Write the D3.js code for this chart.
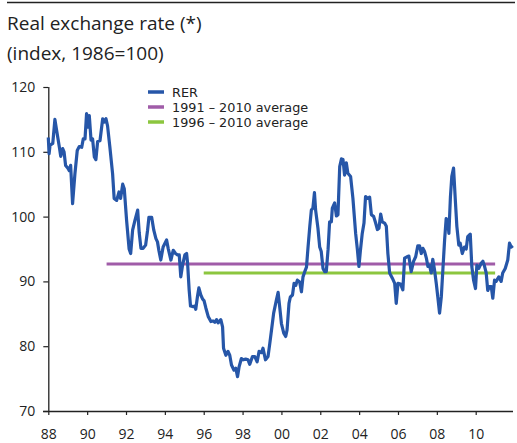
<!DOCTYPE html>
<html><head><meta charset="utf-8">
<script src="https://cdn.jsdelivr.net/npm/d3@7"></script>
<style>
html,body{margin:0;padding:0;background:#fff;}
svg{display:block;font-family:"Open Sans",sans-serif;}
</style></head>
<body>
<svg id="c" width="517" height="443"></svg>
<script>
const titleLines = ["Real exchange rate (*)", "(index, 1986=100)"];
const legendLabels = ["RER", "1991 \u2013 2010 average", "1996 \u2013 2010 average"];
const xTickYears = [1988,1990,1992,1994,1996,1998,2000,2002,2004,2006,2008,2010];
const xTickLabels = ["88","90","92","94","96","98","00","02","04","06","08","10"];
const yTicks = [70,80,90,100,110,120];

const years = [1988.00,1988.04,1988.09,1988.23,1988.34,1988.43,1988.57,1988.64,1988.74,1988.81,1988.89,1989.00,1989.08,1989.15,1989.25,1989.37,1989.49,1989.59,1989.72,1989.80,1989.89,1989.97,1990.03,1990.11,1990.20,1990.28,1990.37,1990.45,1990.54,1990.66,1990.80,1990.88,1990.97,1991.05,1991.17,1991.31,1991.39,1991.52,1991.64,1991.72,1991.83,1991.91,1992.03,1992.16,1992.24,1992.34,1992.46,1992.60,1992.68,1992.77,1992.88,1993.01,1993.11,1993.18,1993.32,1993.43,1993.54,1993.62,1993.69,1993.79,1993.91,1994.09,1994.17,1994.31,1994.43,1994.55,1994.65,1994.74,1994.82,1994.91,1995.03,1995.12,1995.17,1995.25,1995.32,1995.46,1995.54,1995.59,1995.68,1995.75,1995.85,1995.94,1996.02,1996.11,1996.23,1996.37,1996.48,1996.57,1996.66,1996.74,1996.88,1996.97,1997.02,1997.14,1997.25,1997.34,1997.43,1997.56,1997.65,1997.74,1997.82,1997.94,1998.03,1998.16,1998.28,1998.37,1998.51,1998.63,1998.75,1998.85,1998.97,1999.05,1999.18,1999.31,1999.40,1999.49,1999.60,1999.74,1999.83,1999.91,2000.00,2000.12,2000.22,2000.29,2000.39,2000.46,2000.57,2000.65,2000.74,2000.82,2000.94,2001.03,2001.11,2001.20,2001.29,2001.37,2001.46,2001.54,2001.62,2001.70,2001.76,2001.88,2001.97,2002.05,2002.14,2002.23,2002.31,2002.40,2002.48,2002.57,2002.62,2002.74,2002.83,2002.91,2003.00,2003.09,2003.17,2003.25,2003.34,2003.42,2003.56,2003.68,2003.82,2003.91,2003.99,2004.06,2004.16,2004.25,2004.33,2004.45,2004.54,2004.63,2004.75,2004.85,2004.94,2005.02,2005.11,2005.19,2005.31,2005.40,2005.48,2005.57,2005.71,2005.83,2005.91,2006.00,2006.13,2006.25,2006.34,2006.46,2006.56,2006.68,2006.80,2006.91,2007.02,2007.11,2007.20,2007.28,2007.37,2007.46,2007.54,2007.62,2007.71,2007.79,2007.88,2007.97,2008.05,2008.14,2008.23,2008.31,2008.40,2008.48,2008.57,2008.62,2008.70,2008.77,2008.86,2008.95,2009.03,2009.13,2009.20,2009.31,2009.42,2009.51,2009.59,2009.72,2009.80,2009.89,2009.99,2010.06,2010.16,2010.28,2010.37,2010.45,2010.54,2010.62,2010.71,2010.80,2010.88,2010.97,2011.05,2011.19,2011.31,2011.39,2011.52,2011.65,2011.74,2011.83,2011.91];
const rer = [112.2,109.7,111.0,111.3,115.0,113.3,110.7,109.3,110.5,110.0,107.9,107.5,107.1,107.9,102.0,106.6,110.2,110.8,110.7,112.0,112.0,115.9,113.8,115.6,111.8,112.0,109.2,108.8,111.6,111.7,115.1,114.6,115.1,114.0,110.7,106.6,102.8,102.5,103.8,102.8,105.0,104.3,99.4,95.0,94.3,97.9,99.4,101.0,97.5,95.1,95.1,95.6,97.9,99.9,99.9,97.9,96.6,96.1,94.8,93.3,95.3,96.4,95.1,93.3,94.8,94.3,94.1,94.1,90.7,92.5,94.1,94.3,92.8,88.7,86.2,86.1,86.2,85.7,87.7,89.0,87.9,87.3,87.0,85.9,84.6,83.8,83.9,83.7,84.1,83.6,84.1,83.0,79.7,78.6,79.2,78.6,77.1,76.3,76.6,75.3,76.8,78.1,77.9,78.0,77.9,77.2,78.4,78.4,77.6,79.2,79.0,79.7,77.9,78.4,80.4,82.5,85.1,87.1,88.3,86.1,83.5,82.0,81.5,82.5,86.6,87.6,87.9,89.7,89.4,90.2,89.9,88.4,90.7,91.5,92.2,95.3,98.5,101.0,101.3,103.7,101.0,98.2,95.3,94.6,92.0,91.5,91.5,94.9,99.2,99.2,101.3,102.1,100.1,100.3,107.7,108.9,108.8,106.4,108.3,106.7,106.2,102.8,97.4,94.9,92.3,94.6,97.4,99.0,103.1,102.8,103.0,100.3,100.0,99.0,98.0,98.2,100.4,99.2,99.0,98.5,94.3,91.3,90.5,89.7,86.6,89.7,89.6,88.7,93.6,93.8,93.9,91.5,93.1,93.8,95.5,95.5,94.3,95.1,94.6,93.6,92.3,92.5,91.3,93.4,91.8,89.7,87.6,85.1,87.6,91.8,96.4,99.7,99.2,97.4,103.1,106.2,107.5,102.6,98.5,95.6,95.9,94.3,95.3,95.0,96.9,97.3,92.3,90.2,88.9,92.5,92.0,92.8,93.1,92.4,91.3,88.6,89.2,89.2,87.4,90.2,90.0,90.7,90.0,91.3,92.0,93.3,95.9,95.3,95.5];

const avgStart = [1991, 1996];
const avgEnd = [2011, 2011];
const avgValue = [92.7, 91.3];

const colors = ["#2656a8", "#a05ca8", "#8cc63f"];

const svg = d3.select("#c");
const x = d3.scaleLinear().domain([1988, 2011.92]).range([48.3, 513]);
const y = d3.scaleLinear().domain([70, 120]).range([411, 87]);

// top rule
svg.append("line").attr("x1",7).attr("x2",515).attr("y1",2.5).attr("y2",2.5)
  .attr("stroke","#222").attr("stroke-width",1.5);

// title
svg.selectAll("text.title").data(titleLines).join("text")
  .attr("class","title").attr("x",7).attr("y",(d,i)=>30+i*30)
  .attr("font-size",19).attr("fill","#222").text(d=>d);

// axes
const yAxis = d3.axisLeft(y).tickValues(yTicks).tickSize(5).tickPadding(8);
const gy = svg.append("g").attr("transform","translate(48.3,0)").call(yAxis);
const xAxis = d3.axisBottom(x).tickValues(xTickYears).tickSize(4).tickPadding(14)
  .tickFormat((d,i)=>xTickLabels[i]);
const gx = svg.append("g").attr("transform","translate(0,411)").call(xAxis);
[gx,gy].forEach(g=>{
  g.select(".domain").attr("stroke","#222").attr("stroke-width",1.3);
  g.selectAll(".tick line").attr("stroke","#222").attr("stroke-width",1.2);
  g.selectAll(".tick text").attr("font-size",14).attr("fill","#222")
    .attr("font-family","'Open Sans',sans-serif");
});
gx.select(".domain").attr("d","M43,0.5H513");
gy.select(".domain").attr("d","M0.5,87V411");

// average lines
avgValue.forEach((v,i)=>{
  svg.append("line").attr("x1",x(avgStart[i])).attr("x2",x(avgEnd[i]))
    .attr("y1",y(v)).attr("y2",y(v)).attr("stroke",colors[i+1]).attr("stroke-width",3);
});

// RER line
const pts = years.map((t,i)=>[t,rer[i]]);
svg.append("path").datum(pts)
  .attr("fill","none").attr("stroke",colors[0]).attr("stroke-width",3.2)
  .attr("stroke-linejoin","round")
  .attr("d", d3.line().x(d=>x(d[0])).y(d=>y(d[1])));

// legend
const lg = svg.append("g");
legendLabels.forEach((t,i)=>{
  const cy = 92 + i*15;
  lg.append("line").attr("x1",148).attr("x2",164).attr("y1",cy).attr("y2",cy)
    .attr("stroke",colors[i]).attr("stroke-width",3.5);
  lg.append("text").attr("x",172).attr("y",cy+4.7).attr("font-size",12.8)
    .attr("font-family","'DejaVu Sans',sans-serif")
    .attr("fill","#222").text(t);
});
</script>
</body></html>
